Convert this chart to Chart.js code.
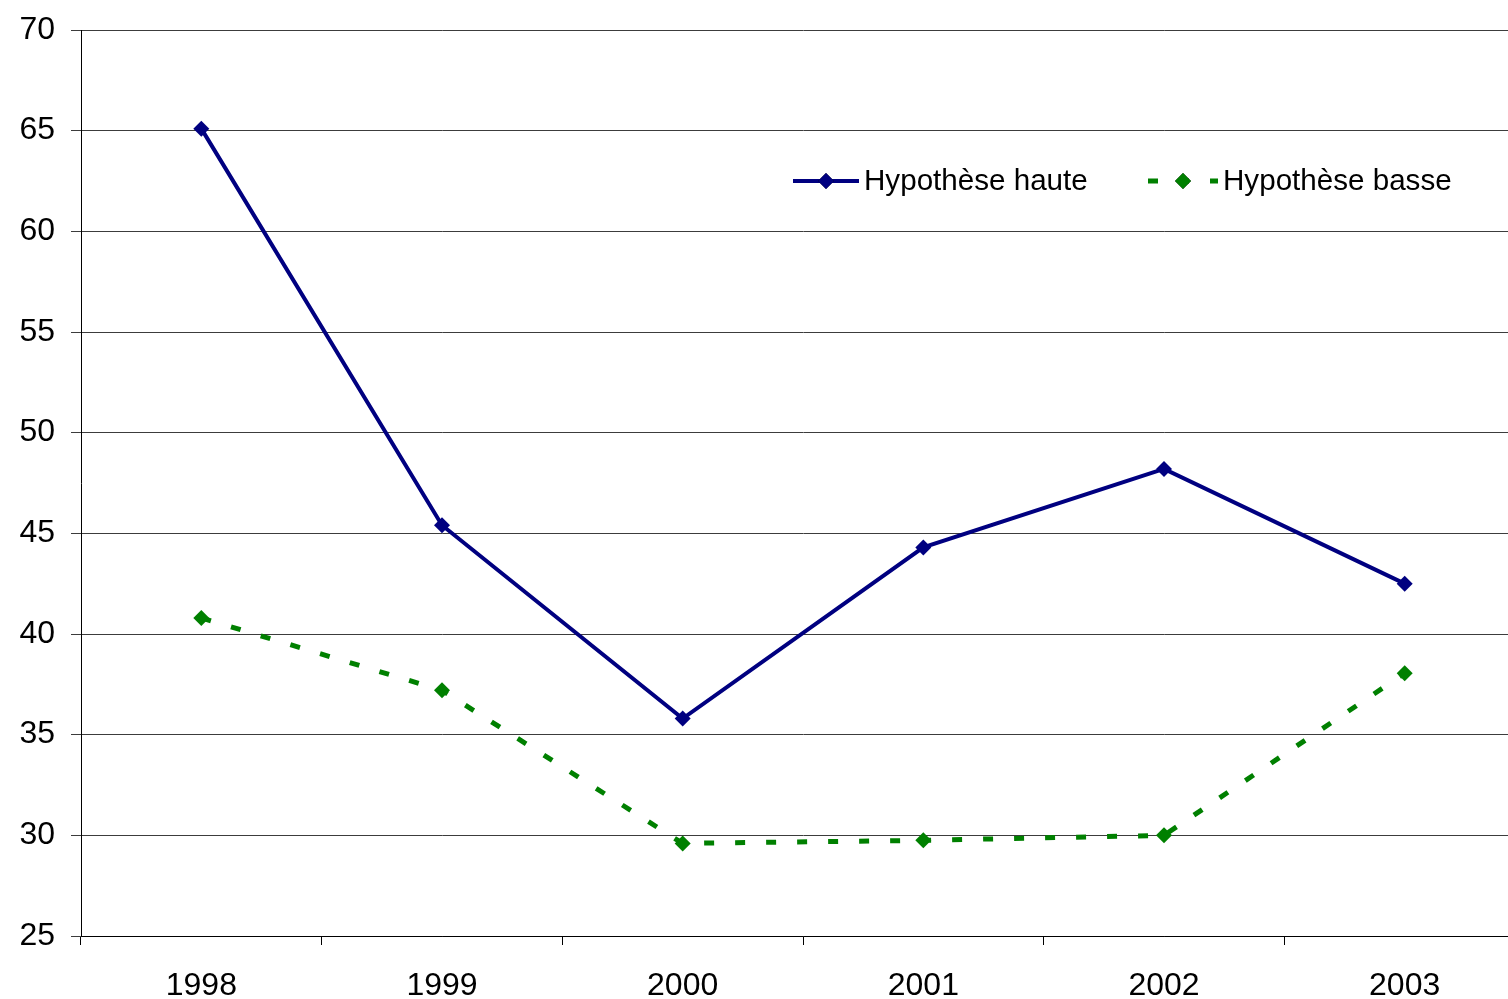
<!DOCTYPE html>
<html>
<head>
<meta charset="utf-8">
<script src="https://cdn.jsdelivr.net/npm/chart.js@4/dist/chart.umd.min.js"></script>
<style>
    html, body { margin: 0; padding: 0; background: #fff; overflow: hidden; }
    #chart { display: block; }
</style>
</head>
<body>
<!-- plot runs slightly past the right edge of the window, as in the original -->
<canvas id="chart" width="1525" height="999"></canvas>
<script>
// Data
const years = ['1998', '1999', '2000', '2001', '2002', '2003'];
const hypoHaute = [65.1, 45.4, 35.8, 44.3, 48.2, 42.5];
const hypoBasse = [40.8, 37.2, 29.6, 29.75, 30.0, 38.05];
const yTicks = [25, 30, 35, 40, 45, 50, 55, 60, 65, 70];

const FONT = '"Liberation Sans", Arial, sans-serif';

// Legend drawn inside the plot, like the original
const insideLegend = {
    id: 'insideLegend',
    afterDraw(chart) {
        const ctx = chart.ctx;
        const items = [
            { ds: chart.data.datasets[0], x: 793, w: 66 },
            { ds: chart.data.datasets[1], x: 1148, w: 70 }
        ];
        const y = 181;
        ctx.save();
        items.forEach(item => {
            const ds = item.ds;
            ctx.strokeStyle = ds.borderColor;
            ctx.lineWidth = ds.borderWidth;
            ctx.setLineDash(ds.borderDash || []);
            ctx.beginPath();
            ctx.moveTo(item.x, y);
            ctx.lineTo(item.x + item.w, y);
            ctx.stroke();
            ctx.setLineDash([]);
            Chart.helpers.drawPoint(ctx, {
                pointStyle: 'rectRot',
                radius: ds.pointRadius,
                borderWidth: 0
            }, item.x + item.w / 2, y);
            ctx.fillStyle = ds.pointBackgroundColor;
            ctx.fill();
            ctx.fillStyle = '#000';
            ctx.font = '29.6px ' + FONT;
            ctx.textBaseline = 'middle';
            ctx.fillText(ds.label, item.x + item.w + 5, y + 1);
        });
        ctx.restore();
    }
};

new Chart(document.getElementById('chart'), {
    type: 'line',
    data: {
        labels: years,
        datasets: [
            {
                label: 'Hypothèse haute',
                data: hypoHaute,
                borderColor: '#000080',
                backgroundColor: '#000080',
                pointBackgroundColor: '#000080',
                pointBorderColor: '#000080',
                borderWidth: 4,
                pointStyle: 'rectRot',
                pointRadius: 8,
                pointBorderWidth: 0,
                tension: 0
            },
            {
                label: 'Hypothèse basse',
                data: hypoBasse,
                borderColor: '#008000',
                backgroundColor: '#008000',
                pointBackgroundColor: '#008000',
                pointBorderColor: '#008000',
                borderWidth: 5,
                borderDash: [10, 21],
                pointStyle: 'rectRot',
                pointRadius: 8,
                pointBorderWidth: 0,
                tension: 0
            }
        ]
    },
    options: {
        responsive: false,
        animation: false,
        layout: {
            autoPadding: false,
            padding: { top: 30, right: 0, left: 0, bottom: 0 }
        },
        plugins: {
            legend: { display: false },
            tooltip: { enabled: false }
        },
        scales: {
            x: {
                offset: true,
                grid: {
                    offset: true,
                    drawOnChartArea: false,
                    tickLength: 9,
                    color: '#000',
                    lineWidth: 1
                },
                border: { color: '#000', width: 1 },
                ticks: {
                    color: '#000',
                    font: { family: FONT, size: 32 },
                    padding: 22,
                    maxRotation: 0
                },
                afterFit: function(scale) {
                    scale.height = 63;
                    scale.paddingLeft = 0;
                    scale.paddingRight = 0;
                }
            },
            y: {
                min: 25,
                max: 70,
                afterBuildTicks: function(scale) {
                    scale.ticks = yTicks.map(v => ({ value: v }));
                },
                grid: {
                    color: '#3c3c3c',
                    lineWidth: 1,
                    tickLength: 10
                },
                border: { color: '#000', width: 1 },
                ticks: {
                    color: '#000',
                    font: { family: FONT, size: 32 },
                    padding: 16
                },
                afterFit: function(scale) {
                    scale.width = 81;
                    scale.paddingTop = 0;
                    scale.paddingBottom = 0;
                }
            }
        }
    },
    plugins: [insideLegend]
});
</script>
</body>
</html>
